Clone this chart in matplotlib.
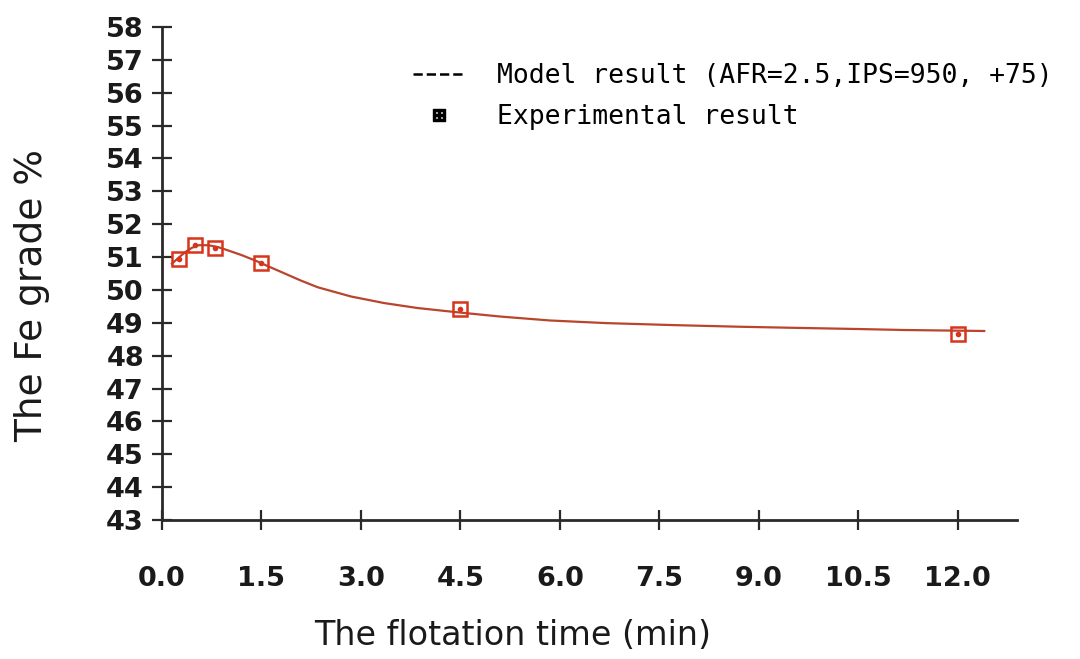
import matplotlib.pyplot as plt
from matplotlib.lines import Line2D

# experimental points
exp_time = [0.25, 0.5, 0.8, 1.5, 4.5, 12.0]
exp_grade = [50.95, 51.38, 51.27, 50.82, 49.42, 48.65]

# model curve
model_time = [0.15, 0.25, 0.35, 0.45, 0.55, 0.7, 0.85, 1.0, 1.2, 1.4, 1.6, 1.85, 2.1, 2.35,
              2.85, 3.35, 3.85, 4.45, 5.1, 5.85, 6.7, 7.7, 8.7, 9.7, 10.5, 11.2, 12.0, 12.4]
model_grade = [50.8, 50.98, 51.15, 51.28, 51.36, 51.36, 51.3, 51.2, 51.06, 50.9, 50.72, 50.5,
               50.28, 50.08, 49.8, 49.6, 49.45, 49.32, 49.19, 49.07, 48.99, 48.93, 48.88,
               48.84, 48.81, 48.78, 48.76, 48.75]

x_ticks = [0.0, 1.5, 3.0, 4.5, 6.0, 7.5, 9.0, 10.5, 12.0]
x_ticklabels = ['0.0', '1.5', '3.0', '4.5', '6.0', '7.5', '9.0', '10.5', '12.0']
y_ticks = list(range(43, 59))

line_col = '#b8452c'
mark_col = '#d8341c'
axis_col = '#2a2a2a'
text_col = '#1a1a1a'

fig = plt.figure(figsize=(10.8, 6.59), dpi=100)
ax = fig.add_axes([0.15, 0.211, 0.792, 0.748])

ax.plot(model_time, model_grade, color=line_col, lw=1.6)
ax.plot(exp_time, exp_grade, ls='none', marker='s', ms=10, mfc='none', mec=mark_col, mew=1.8)
ax.plot(exp_time, exp_grade, ls='none', marker='o', ms=3, color=mark_col)

ax.set_xlim(0, 12.9)
ax.set_ylim(43, 58)
ax.set_xticks(x_ticks)
ax.set_xticklabels(x_ticklabels)
ax.set_yticks(y_ticks)

for s in ['top', 'right']:
    ax.spines[s].set_visible(False)
for s in ['left', 'bottom']:
    ax.spines[s].set_color(axis_col)
    ax.spines[s].set_linewidth(2)

ax.tick_params(axis='both', direction='inout', length=14, width=1.6, color=axis_col,
               labelsize=19.5, labelcolor=text_col)
ax.tick_params(axis='x', pad=26)
ax.tick_params(axis='y', pad=6)
for lab in ax.get_xticklabels() + ax.get_yticklabels():
    lab.set_fontweight('bold')

ax.set_xlabel('The flotation time (min)', fontsize=24, color=text_col)
ax.xaxis.set_label_coords(0.41, -0.2)
ax.set_ylabel('The Fe grade %', fontsize=27, color=text_col)
ax.yaxis.set_label_coords(-0.131, 0.456)

handles = [Line2D([], [], color='black', ls='--', lw=1.8),
           Line2D([], [], ls='none', marker=r'$\boxplus$', ms=8, color='black')]
labels = ['Model result (AFR=2.5,IPS=950, +75)', 'Experimental result']
fig.legend(handles, labels, loc='upper left', bbox_to_anchor=(0.36, 0.94), frameon=False,
           prop={'family': 'DejaVu Sans Mono', 'size': 19},
           handlelength=2.0, handletextpad=1.2, labelspacing=0.55)

fig.savefig('out.png', dpi=100)
